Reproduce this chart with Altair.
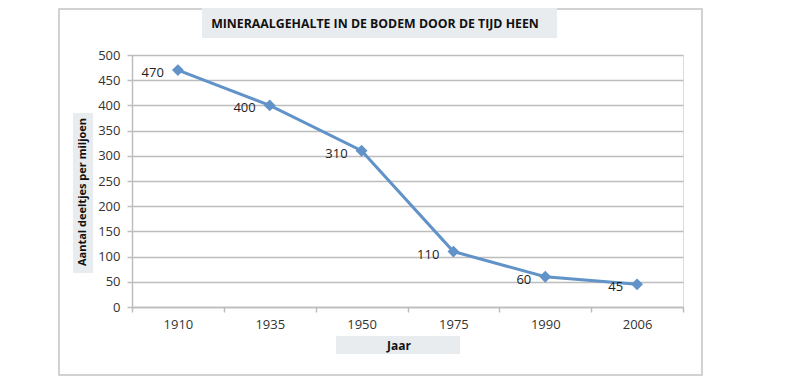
import altair as alt
import pandas as pd

# ---- data ----
years = ["1910", "1935", "1950", "1975", "1990", "2006"]
values = [470, 400, 310, 110, 60, 45]
y_ticks = [0, 50, 100, 150, 200, 250, 300, 350, 400, 450, 500]
title_text = "MINERAALGEHALTE IN DE BODEM DOOR DE TIJD HEEN"
x_title = "Jaar"
y_title = "Aantal deeltjes per miljoen"

df = pd.DataFrame({"Jaar": years, "waarde": values})

W, H = 551, 252
FONT = "Open Sans"
LINE = "#6192c8"
GRID = "#bdbdbd"
BOXFILL = "#e9ecef"

x = alt.X(
    "Jaar:O", sort=years,
    scale=alt.Scale(type="band", paddingInner=0, paddingOuter=0),
    axis=alt.Axis(title=None, labelAngle=0, tickBand="extent", tickSize=5,
                  labelPadding=6, domainColor=GRID, tickColor=GRID, domainWidth=1.5,
                  tickWidth=1.5, labelColor="#333333", labelFontSize=13,
                  labelFont=FONT, grid=False),
)
y = alt.Y(
    "waarde:Q", scale=alt.Scale(domain=[0, 500]),
    axis=alt.Axis(values=y_ticks, title=None, tickSize=5, labelPadding=7,
                  domainColor=GRID, tickColor=GRID, domainWidth=1.5, tickWidth=1.5,
                  gridColor=GRID, gridWidth=1.5, labelColor="#333333",
                  labelFontSize=13, labelFont=FONT),
)

one = alt.Data(values=[{"t": title_text, "xt": x_title, "yt": y_title}])

frame = alt.Chart(one).mark_rect(filled=False, stroke="#c4c4c4", strokeWidth=1.5).encode(
    x=alt.value(-73), x2=alt.value(570), y=alt.value(-46), y2=alt.value(320))
title_box = alt.Chart(one).mark_rect(fill=BOXFILL).encode(
    x=alt.value(70), x2=alt.value(425), y=alt.value(-47), y2=alt.value(-17))
ytitle_box = alt.Chart(one).mark_rect(fill=BOXFILL).encode(
    x=alt.value(-59), x2=alt.value(-39), y=alt.value(58), y2=alt.value(218))
xtitle_box = alt.Chart(one).mark_rect(fill=BOXFILL).encode(
    x=alt.value(204), x2=alt.value(328), y=alt.value(281), y2=alt.value(299))

title_txt = alt.Chart(one).mark_text(font=FONT, fontWeight="bold", fontSize=12.3,
                                     color="#111111", align="center", baseline="middle").encode(
    x=alt.value(243), y=alt.value(-31), text="t:N")
ytitle_txt = alt.Chart(one).mark_text(font=FONT, fontWeight="bold", fontSize=11, angle=270,
                                      color="#111111", align="center", baseline="middle").encode(
    x=alt.value(-49), y=alt.value(137), text="yt:N")
xtitle_txt = alt.Chart(one).mark_text(font=FONT, fontWeight="bold", fontSize=12,
                                      color="#111111", align="center", baseline="middle").encode(
    x=alt.value(267), y=alt.value(291), text="xt:N")

base = alt.Chart(df).encode(x=x, y=y)
line = base.mark_line(color=LINE, strokeWidth=3)
pts = base.mark_point(shape="diamond", filled=True, size=140, color=LINE, opacity=1)
labels = base.mark_text(font=FONT, fontSize=13, color="#222222", align="right",
                        baseline="middle", dx=-14, dy=3).encode(text="waarde:Q")

chart = alt.layer(
    frame, title_box, ytitle_box, xtitle_box, title_txt, ytitle_txt, xtitle_txt,
    line, pts, labels
).properties(
    width=W, height=H,
    autosize=alt.AutoSizeParams(type="none"),
    padding={"left": 124, "top": 47, "right": 100, "bottom": 70},
).configure_view(stroke=None).configure(background="white")

chart.save("out.html", embed_options={"renderer": "svg", "actions": False})
